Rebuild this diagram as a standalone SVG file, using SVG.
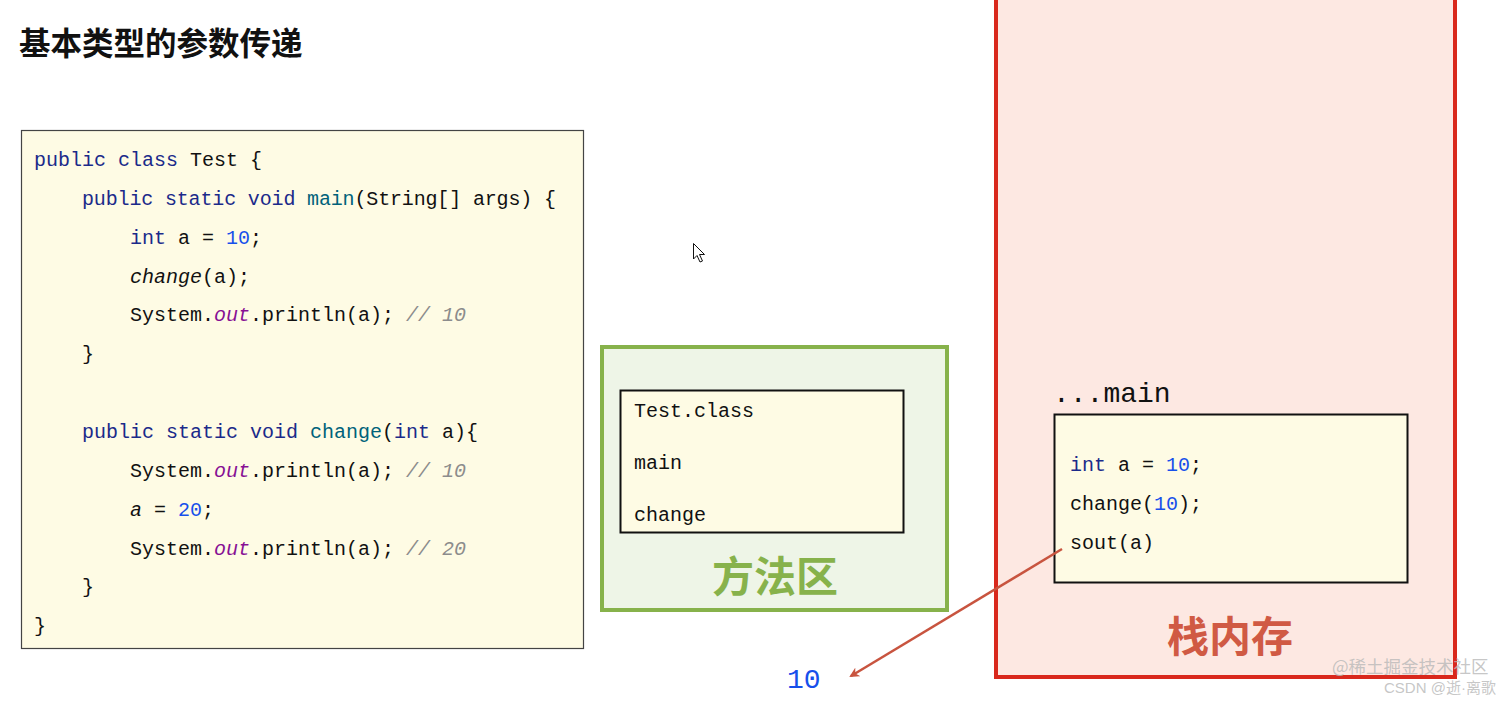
<svg xmlns="http://www.w3.org/2000/svg" width="1512" height="701" viewBox="0 0 1512 701">
<style>
.code{font-family:"Liberation Mono","DejaVu Sans Mono",monospace;font-size:20px;fill:#111;}
.big{font-size:28px;}
.kw{fill:#1b2a8a;}
.fn{fill:#00627a;}
.num{fill:#1750eb;}
.out{fill:#871094;font-style:italic;}
.cm{fill:#8c8c8c;font-style:italic;}
.it{font-style:italic;}
.cjk{font-family:"Noto Sans CJK SC","Noto Sans",sans-serif;font-weight:bold;}
</style>
<defs>
<marker id="arr" markerWidth="10" markerHeight="10" refX="8" refY="5" orient="auto" markerUnits="userSpaceOnUse" viewBox="0 0 10 10">
<path d="M0,0 L10,5 L0,10 L3,5 z" fill="#c8543f"/>
</marker>
</defs>
<rect width="1512" height="701" fill="#ffffff"/>

<g id="title">
<text class="cjk" x="19" y="55" font-size="31.5" fill="#111">基本类型的参数传递</text>
</g>

<g id="code">
<rect x="21.5" y="130.5" width="562" height="518" fill="#fefbe4" stroke="#444" stroke-width="1.2"/>
<text class="code" x="34" y="166"><tspan class="kw">public class </tspan>Test {</text>
<text class="code" x="82" y="205" textLength="474" lengthAdjust="spacing"><tspan class="kw">public static void </tspan><tspan class="fn">main</tspan>(String[] args) {</text>
<text class="code" x="130" y="244"><tspan class="kw">int </tspan>a = <tspan class="num">10</tspan>;</text>
<text class="code" x="130" y="283"><tspan class="it">change</tspan>(a);</text>
<text class="code" x="130" y="321">System.<tspan class="out">out</tspan>.println(a); <tspan class="cm">// 10</tspan></text>
<text class="code" x="82" y="360">}</text>
<text class="code" x="82" y="438"><tspan class="kw">public static void </tspan><tspan class="fn">change</tspan>(<tspan class="kw">int</tspan> a){</text>
<text class="code" x="130" y="477">System.<tspan class="out">out</tspan>.println(a); <tspan class="cm">// 10</tspan></text>
<text class="code" x="130" y="516"><tspan class="it">a</tspan> = <tspan class="num">20</tspan>;</text>
<text class="code" x="130" y="555">System.<tspan class="out">out</tspan>.println(a); <tspan class="cm">// 20</tspan></text>
<text class="code" x="82" y="593">}</text>
<text class="code" x="34" y="632">}</text>
</g>

<g id="cursor">
<path d="M693.5,243.5 L693.5,259 L697,255.5 L700,262 L702.5,261 L699.5,254.5 L704.5,254.5 Z" fill="#ffffff" stroke="#111" stroke-width="1"/>
</g>

<g id="method-area">
<rect x="602" y="347" width="345" height="263" fill="#eef5e7" stroke="#87b24b" stroke-width="4"/>
<rect x="620.5" y="390.5" width="283" height="142" fill="#fefbe4" stroke="#111" stroke-width="2"/>
<text class="code" x="634" y="417">Test.class</text>
<text class="code" x="634" y="469">main</text>
<text class="code" x="634" y="521">change</text>
<text class="cjk" x="775" y="592" font-size="42" fill="#87b24b" text-anchor="middle">方法区</text>
</g>

<g id="stack">
<rect x="996" y="-10" width="459" height="687" fill="#fde8e2" stroke="#d9281c" stroke-width="4"/>
<text class="code big" x="1053" y="402">...main</text>
<rect x="1054.5" y="414.5" width="353" height="168" fill="#fefbe4" stroke="#111" stroke-width="2"/>
<text class="code" x="1070" y="471"><tspan class="kw">int</tspan> a = <tspan class="num">10</tspan>;</text>
<text class="code" x="1070" y="510">change(<tspan class="num">10</tspan>);</text>
<text class="code" x="1070" y="549">sout(a)</text>
<text class="cjk" x="1230" y="652" font-size="42" fill="#d05a44" text-anchor="middle">栈内存</text>
</g>

<g id="output">
<text x="787" y="688" font-family="Liberation Mono, DejaVu Sans Mono, monospace" font-size="28" fill="#1750eb">10</text>
</g>

<g id="connectors">
<line x1="1062" y1="549" x2="851" y2="676" stroke="#c8543f" stroke-width="2.5" marker-end="url(#arr)"/>
</g>

<g id="watermark">
<text x="1332" y="673" font-family="Noto Sans CJK SC, sans-serif" font-size="17.5" fill="#b8b8b8" fill-opacity="0.8">@稀土掘金技术社区</text>
<text x="1384" y="693" font-family="Liberation Sans, Noto Sans CJK SC, sans-serif" font-size="15" fill="#b8b8b8" fill-opacity="0.8">CSDN @逝·离歌</text>
</g>
</svg>
